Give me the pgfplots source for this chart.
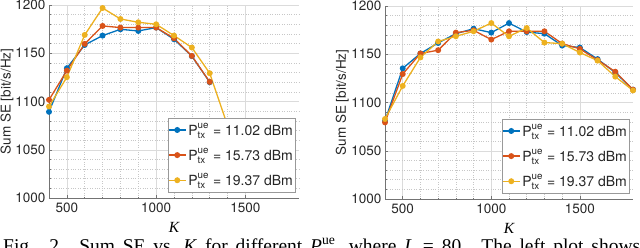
\documentclass[border=0pt]{standalone}
\usepackage{amsmath}
\usepackage{fontspec}
\setmainfont{TeX Gyre Heros}
\newfontfamily\capfont{Liberation Serif}
\usepackage{pgfplots}
\pgfplotsset{compat=1.18}
\definecolor{c1}{rgb}{0,0.447,0.741}
\definecolor{c2}{rgb}{0.85,0.325,0.098}
\definecolor{c3}{rgb}{0.929,0.694,0.125}
\pgfplotsset{mystyle/.style={
  scale only axis, height=193pt,
  xmin=400, xmax=1800, ymin=1000, ymax=1200,
  xtick={500,1000,1500}, ytick={1000,1050,...,1200},
  minor x tick num=4, minor y tick num=4,
  grid=both,
  major grid style={black!14, line width=0.5pt},
  minor grid style={black!22, dotted, line width=0.5pt},
  axis x line*=bottom, axis y line*=left,
  axis line style={black!55, line width=0.6pt, -},
  every tick/.style={black!55, line width=0.5pt},
  tick align=inside, major tick length=3pt, minor tick length=1.5pt,
  tick label style={font=\fontsize{13.5}{15}\selectfont, text=black!85},
  xticklabel style={yshift=-1pt},
  /pgf/number format/assume math mode=true,
  /pgf/number format/1000 sep={},
  xlabel={\capfont\itshape K},
  xlabel style={font=\fontsize{15.5}{17}\selectfont, at={(axis description cs:0.5,0)}, anchor=center, yshift=-29pt},
  ylabel={Sum SE [bit/s/Hz]},
  ylabel style={font=\fontsize{13.5}{15}\selectfont, text=black!85, anchor=center},
  every axis plot/.append style={line width=1.3pt, mark=*, mark size=2.3pt, mark options={solid}},
  legend cell align=left,
  legend style={at={(1,0)}, anchor=south east, xshift=-4pt, yshift=6pt,
    draw=black!40, fill=white, font=\fontsize{14}{16}\selectfont, text=black!85,
    inner xsep=0pt, inner ysep=3pt, row sep=8pt},
  legend image code/.code={\draw[mark repeat=2,mark phase=2] plot coordinates {(0pt,0pt)(8.5pt,0pt)(17pt,0pt)};},
}}
\begin{document}
\begin{tikzpicture}
\begin{axis}[mystyle, width=250pt, at={(49pt,49pt)}, anchor=south west,
  ylabel style={at={(axis description cs:-0.168,0.5)}}]
\addplot[c1] coordinates {(400,1089.3)(500,1134.5)(600,1158.6)(700,1168.3)(800,1174.8)(900,1173.1)(1000,1176.6)(1100,1164.5)(1200,1147.0)(1300,1120.0)};
\addplot[c2] coordinates {(400,1101.7)(500,1132.0)(600,1159.7)(700,1178.3)(800,1176.6)(900,1176.6)(1000,1176.6)(1100,1165.5)(1200,1147.2)(1300,1120.3)};
\addplot[c3] coordinates {(400,1094.8)(500,1125.2)(600,1169.0)(700,1196.9)(800,1185.5)(900,1182.1)(1000,1180.0)(1100,1168.3)(1200,1155.9)(1300,1129.3)(1400,1075.0)};
\legend{$\text{P}^{\text{ue}}_{\text{tx}}$ = 11.02 dBm, $\text{P}^{\text{ue}}_{\text{tx}}$ = 15.73 dBm, $\text{P}^{\text{ue}}_{\text{tx}}$ = 19.37 dBm}
\end{axis}
\begin{axis}[mystyle, width=248pt, at={(385pt,48pt)}, anchor=south west,
  ylabel style={at={(axis description cs:-0.172,0.5)}}]
\addplot[c1] coordinates {(400,1081.0)(500,1135.4)(600,1150.8)(700,1161.7)(800,1171.3)(900,1176.5)(1000,1172.4)(1100,1182.3)(1200,1173.0)(1300,1171.3)(1400,1159.0)(1500,1157.0)(1600,1145.0)(1700,1131.0)(1800,1113.3)};
\addplot[c2] coordinates {(400,1079.4)(500,1129.5)(600,1150.8)(700,1154.2)(800,1172.4)(900,1174.8)(1000,1165.2)(1100,1173.8)(1200,1173.8)(1300,1173.8)(1400,1161.0)(1500,1155.6)(1600,1144.0)(1700,1131.9)(1800,1113.3)};
\addplot[c3] coordinates {(400,1082.9)(500,1117.2)(600,1146.7)(700,1163.2)(800,1168.6)(900,1173.8)(1000,1182.3)(1100,1168.6)(1200,1177.2)(1300,1162.1)(1400,1161.0)(1500,1151.8)(1600,1143.4)(1700,1126.8)(1800,1112.5)};
\legend{$\text{P}^{\text{ue}}_{\text{tx}}$ = 11.02 dBm, $\text{P}^{\text{ue}}_{\text{tx}}$ = 15.73 dBm, $\text{P}^{\text{ue}}_{\text{tx}}$ = 19.37 dBm}
\end{axis}
\node[anchor=base west, inner sep=0pt, font=\capfont\fontsize{19.5}{23}\selectfont] at (3pt,-5.5pt)
  {\makebox[637pt][s]{Fig. 2.\hspace{0.6em plus 3pt}Sum SE vs.\ \textit{K} for different \textit{P}$^{\text{ue}}_{\text{tx}}$, where \textit{L} = 80. The left plot shows}};
\pgfresetboundingbox
\useasboundingbox (0pt,0pt) rectangle (640pt,247pt);
\end{tikzpicture}
\end{document}
